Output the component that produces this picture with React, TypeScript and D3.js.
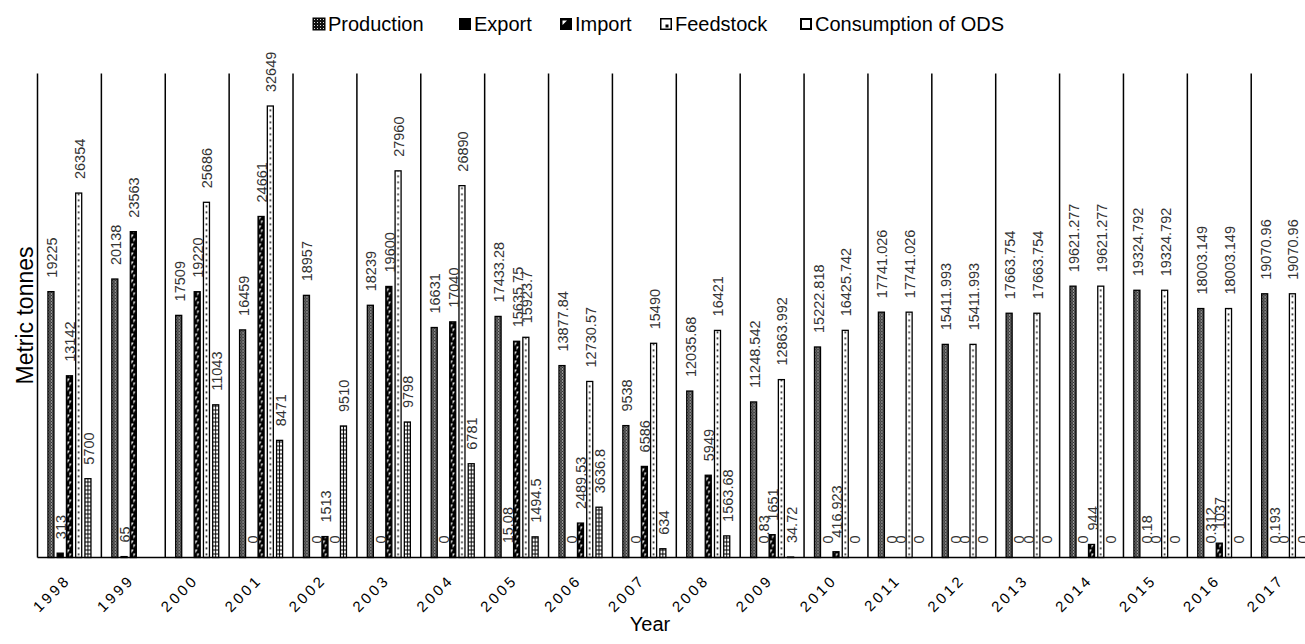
import React from 'react';
import * as d3 from 'd3';

const years = ['1998','1999','2000','2001','2002','2003','2004','2005','2006','2007','2008','2009','2010','2011','2012','2013','2014','2015','2016','2017'];
const seriesNames = ['Production','Export','Import','Feedstock','Consumption of ODS'];
const production = [19225, 20138, 17509, 16459, 18957, 18239, 16631, 17433.28, 13877.84, 9538, 12035.68, 11248.542, 15222.818, 17741.026, 15411.993, 17663.754, 19621.277, 19324.792, 18003.149, 19070.96];
const exportVals = [313, 65, null, 0, 0, 0, 0, 15.08, 0, 0, null, 0.83, 0, 0, 0, 0, 0, 0.18, 0.312, 0.193];
const importVals = [13142, 23563, 19220, 24661, 1513, 19600, 17040, 15635.75, 2489.53, 6586, 5949, 1651, 416.923, 0, 0, 0, 944, 0, 1037, 0];
const feedstock = [26354, null, 25686, 32649, 0, 27960, 26890, 15923.7, 12730.57, 15490, 16421, 12863.992, 16425.742, 17741.026, 15411.993, 17663.754, 19621.277, 19324.792, 18003.149, 19070.96];
const consumption = [5700, null, 11043, 8471, 9510, 9798, 6781, 1494.5, 3636.8, 634, 1563.68, 34.72, 0, 0, 0, 0, 0, 0, 0, 0];
const allSeries = [production, exportVals, importVals, feedstock, consumption];
const yMax = 35000;

const FONT = "'Liberation Sans', Arial, sans-serif";

export default function App() {
  const W = 1305, H = 644;
  const left = 37.5, groupStep = 63.88;
  const top = 73.5, bottom = 557.5;
  const x0 = d3.scaleBand<string>().domain(years).range([left, left + groupStep * years.length]).padding(0);
  const gw = x0.bandwidth();
  const x1 = d3.scaleBand<string>().domain(seriesNames).range([gw * 0.138, gw * 0.862]).paddingInner(0.35).paddingOuter(0.175);
  const bw = x1.bandwidth();
  const y = d3.scaleLinear().domain([0, yMax]).range([bottom, top]);
  const fills = ['url(#pProd)', '#000', 'url(#pImp)', 'url(#pFeed)', 'url(#pCons)'];

  const legendItems = [
    { name: 'Production', x: 313 },
    { name: 'Export', x: 459 },
    { name: 'Import', x: 560 },
    { name: 'Feedstock', x: 660 },
    { name: 'Consumption of ODS', x: 800 },
  ];

  return (
    <svg width={W} height={H} style={{ position: 'absolute', left: 0, top: 0, background: '#fff' }} fontFamily={FONT}>
      <defs>
        <pattern id="pProd" patternUnits="userSpaceOnUse" width={3} height={3}>
          <rect width={3} height={3} fill="#333" />
          <rect x={0} y={0} width={1} height={1} fill="#fff" />
          <rect x={1.5} y={1.5} width={1} height={1} fill="#ddd" />
        </pattern>
        <pattern id="pImp" patternUnits="userSpaceOnUse" width={bw} height={9}>
          <rect width={bw} height={9} fill="#000" />
          <path d={`M${bw * 0.2},1 L${bw * 0.55},1 L${bw * 0.2},4.5 Z`} fill="#fff" />
          <path d={`M${bw * 0.5},5 L${bw * 0.85},5 L${bw * 0.5},8.5 Z`} fill="#fff" />
        </pattern>
        <pattern id="pFeed" patternUnits="userSpaceOnUse" width={bw} height={6}>
          <rect width={bw} height={6} fill="#fff" />
          <rect x={bw / 2 - 0.8} y={2} width={1.6} height={1.6} fill="#000" />
        </pattern>
        <pattern id="pCons" patternUnits="userSpaceOnUse" width={bw} height={4}>
          <rect width={bw} height={4} fill="#fff" />
          <rect x={0} y={0} width={bw} height={1} fill="#000" />
          <rect x={bw / 2 - 0.5} y={0} width={1} height={4} fill="#000" />
        </pattern>
        <pattern id="lProd" patternUnits="userSpaceOnUse" width={3} height={3}>
          <rect width={3} height={3} fill="#111" />
          <rect x={1} y={1} width={1} height={1} fill="#ddd" />
        </pattern>
      </defs>

      {/* legend */}
      {legendItems.map((it, i) => (
        <g key={it.name} transform={`translate(${it.x},24)`}>
          {i === 0 && <rect x={0} y={-6} width={12} height={12} fill="url(#lProd)" stroke="#000" strokeWidth={1} />}
          {i === 1 && <rect x={0} y={-6} width={12} height={12} fill="#000" />}
          {i === 2 && (<g><rect x={0} y={-6} width={12} height={12} fill="#000" /><path d="M2.5,-3.5 L7,-3.5 L2.5,1 Z" fill="#fff" /></g>)}
          {i === 3 && (<g><rect x={0.75} y={-5.25} width={10.5} height={10.5} fill="#fff" stroke="#000" strokeWidth={1.5} /><rect x={5.5} y={0.5} width={3} height={3} fill="#000" /></g>)}
          {i === 4 && <rect x={1} y={-5} width={10} height={10} fill="#fff" stroke="#000" strokeWidth={2} />}
          <text x={15} y={0} dominantBaseline="central" fontSize={20} fill="#000">{it.name}</text>
        </g>
      ))}

      {/* dividers */}
      {years.map((yr) => (
        <line key={'d' + yr} x1={x0(yr)} x2={x0(yr)} y1={top} y2={bottom} stroke="#000" strokeWidth={1.5} />
      ))}
      <line x1={left + groupStep * years.length} x2={left + groupStep * years.length} y1={top} y2={bottom} stroke="#000" strokeWidth={1.5} />

      {/* bars */}
      {years.map((yr, yi) => (
        <g key={'g' + yr}>
          {allSeries.map((arr, si) => {
            const v = arr[yi];
            if (v === null || v === undefined) return null;
            const bx = (x0(yr) as number) + (x1(seriesNames[si]) as number);
            const h = bottom - y(v);
            return (
              <g key={si} transform={`translate(${bx},${bottom})`}>
                {h > 0.3 && <rect x={0} y={-h} width={bw} height={h} fill={fills[si]} stroke="#000" strokeWidth={1.3} />}
              </g>
            );
          })}
        </g>
      ))}

      {/* labels */}
      {years.map((yr, yi) => (
        <g key={'l' + yr}>
          {allSeries.map((arr, si) => {
            const v = arr[yi];
            if (v === null || v === undefined) return null;
            const cx = (x0(yr) as number) + (x1(seriesNames[si]) as number) + bw / 2;
            const ly = y(v) - 14;
            return (
              <text key={si} transform={`translate(${cx + 1},${ly}) rotate(-90)`} textAnchor="start" dominantBaseline="central" fontSize={14.5} fill="#333">{String(v)}</text>
            );
          })}
        </g>
      ))}

      {/* baseline */}
      <line x1={left} x2={W + 20} y1={bottom} y2={bottom} stroke="#000" strokeWidth={1.5} />

      {/* x tick labels */}
      {years.map((yr) => {
        const cx = (x0(yr) as number) + gw / 2;
        return (
          <text key={'t' + yr} transform={`translate(${cx + 2},${581}) rotate(-45)`} textAnchor="end" fontSize={15} letterSpacing={3} fill="#000">{yr}</text>
        );
      })}

      <text x={650} y={624} textAnchor="middle" dominantBaseline="central" fontSize={20} fill="#000">Year</text>
      <text transform={`translate(25,${(top + bottom) / 2}) rotate(-90)`} textAnchor="middle" dominantBaseline="central" fontSize={23} fill="#000">Metric tonnes</text>
    </svg>
  );
}
